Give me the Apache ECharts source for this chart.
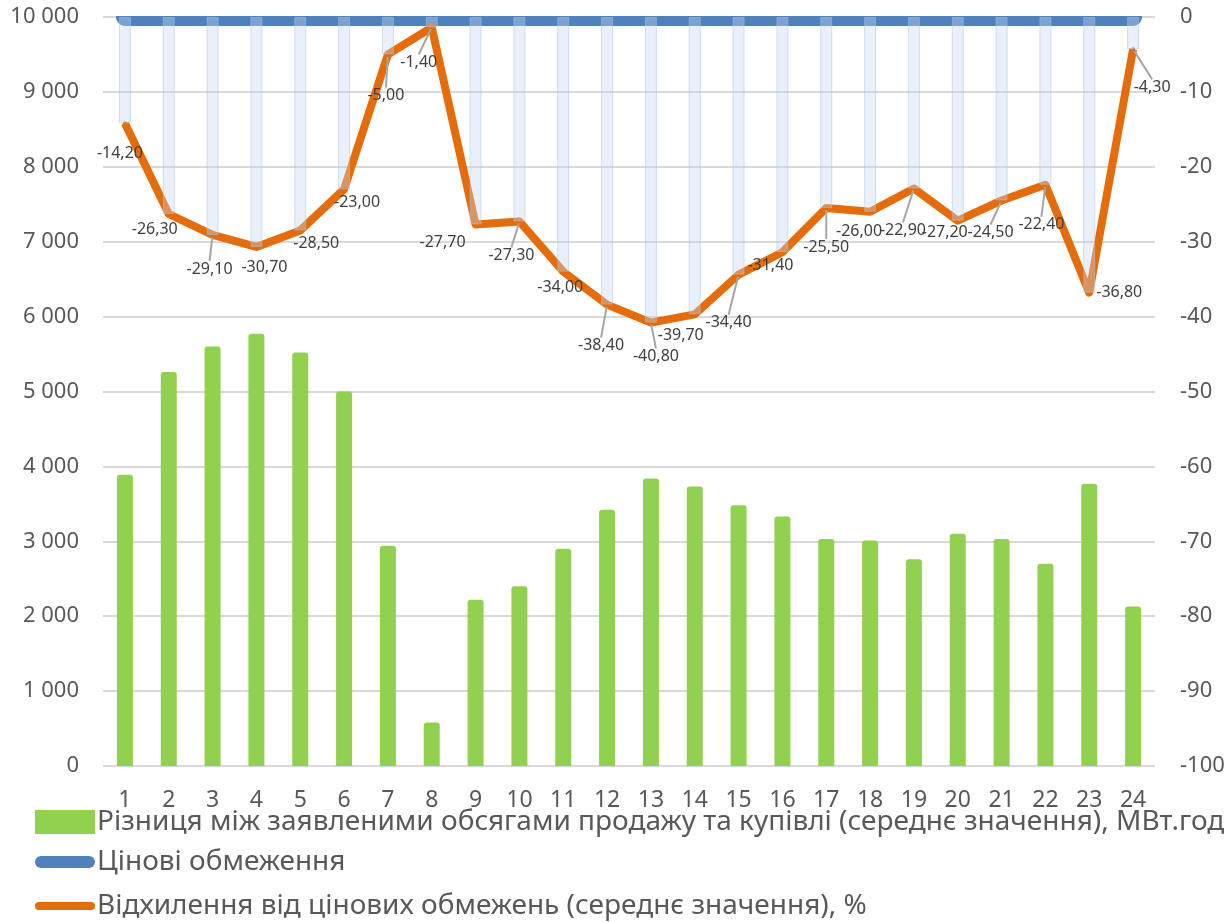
<!DOCTYPE html>
<html>
<head>
<meta charset="utf-8">
<script src="https://cdn.jsdelivr.net/npm/echarts@6/dist/echarts.min.js"></script>
<style>
  html, body { margin: 0; padding: 0; background: #fff; }
  #chart { width: 1229px; height: 922px; }
</style>
</head>
<body>
<div id="chart"></div>
<script>
const hours = ['1', '2', '3', '4', '5', '6', '7', '8', '9', '10', '11', '12',
  '13', '14', '15', '16', '17', '18', '19', '20', '21', '22', '23', '24']

// Різниця між заявленими обсягами, МВт.год
const volumeDiff = [3890, 5260, 5600, 5770, 5520, 5000, 2940, 580, 2220, 2400, 2900, 3420,
  3840, 3730, 3480, 3330, 3030, 3010, 2760, 3100, 3030, 2700, 3770, 2130]

// Цінові обмеження (рівень 0 %)
const priceLimit = [0, 0, 0, 0, 0, 0, 0, 0, 0, 0, 0, 0,
  0, 0, 0, 0, 0, 0, 0, 0, 0, 0, 0, 0]

// Відхилення від цінових обмежень, %
const deviation = [-14.2, -26.3, -29.1, -30.7, -28.5, -23.0, -5.0, -1.4, -27.7, -27.3, -34.0, -38.4,
  -40.8, -39.7, -34.4, -31.4, -25.5, -26.0, -22.9, -27.2, -24.5, -22.4, -36.8, -4.3]

const leftTicks = { min: 0, max: 10000, interval: 1000 }
const rightTicks = { min: -100, max: 0, interval: 10 }

const seriesNames = [
  'Різниця між заявленими обсягами продажу та купівлі (середнє значення), МВт.год',
  'Цінові обмеження',
  'Відхилення від цінових обмежень (середнє значення), %'
]

// зсув підписів відносно точок (як у вихідній діаграмі)
const labelShift = [
  [-5, 30], [-14, 15], [-3, 34], [8, 20], [16, 13], [13, 13], [-2, 41], [-13, 35],
  [-33, 18], [-8, 34], [-3, 16], [-6, 41], [5, 34], [-14, 21], [-10, 48], [-12, 13],
  [0, 39], [-11, 20], [-11, 42], [-13, 12], [-11, 32], [-4, 40], [30, 0], [19, 38]
]
const withLeader = [2, 6, 7, 9, 11, 12, 14, 16, 18, 20, 21, 23]

const FONT = 'Noto Sans'
const grey = '#595959'

const fmtThousands = (v) => String(v).replace(/\B(?=(\d{3})+(?!\d))/g, ' ')
const fmtPct = (v) => v.toFixed(2).replace('.', ',')

const legendText = { fontFamily: FONT, fontSize: 28, color: grey, lineHeight: 30, padding: [0, 0, 0, -3] }

const chart = echarts.init(document.getElementById('chart'))

const option = {
  animation: false,
  textStyle: { fontFamily: FONT },
  grid: { left: 103, right: 74, top: 17, bottom: 156, containLabel: false },
  // біла смуга над областю побудови: як в Excel, лінія обрізається по краю
  graphic: [{
    type: 'rect',
    shape: { x: 98, y: 0, width: 1062, height: 16 },
    style: { fill: '#fff' },
    z: 10
  }],
  legend: [
    {
      data: [{ name: seriesNames[0], icon: 'rect' }],
      left: 35, top: 807, padding: 0, itemWidth: 60, itemHeight: 24,
      textStyle: legendText
    },
    {
      data: [{ name: seriesNames[1], icon: 'path://M6,0 L54,0 A6,6 0 0 1 54,12 L6,12 A6,6 0 0 1 6,0 Z' }],
      left: 35, top: 847, padding: 0, itemWidth: 60, itemHeight: 12,
      textStyle: legendText
    },
    {
      data: [{ name: seriesNames[2], icon: 'path://M4,0 L56,0 A4,4 0 0 1 56,8 L4,8 A4,4 0 0 1 4,0 Z' }],
      left: 35, top: 891, padding: 0, itemWidth: 60, itemHeight: 8,
      textStyle: legendText
    }
  ],
  xAxis: [
    {
      type: 'category',
      data: hours,
      axisLine: { show: false },
      axisTick: { show: false },
      axisLabel: { color: grey, fontSize: 23, margin: 23, fontFamily: FONT }
    },
    {
      type: 'category',
      data: hours,
      show: false
    }
  ],
  yAxis: [
    {
      type: 'value',
      ...leftTicks,
      axisLine: { show: false },
      axisTick: { show: false },
      axisLabel: { color: grey, fontSize: 22, margin: 24, fontFamily: FONT, formatter: fmtThousands },
      splitLine: { show: true, lineStyle: { color: '#D9D9D9', width: 2 } }
    },
    {
      type: 'value',
      ...rightTicks,
      position: 'right',
      axisLine: { show: false },
      axisTick: { show: false },
      axisLabel: { color: grey, fontSize: 22, margin: 25, fontFamily: FONT },
      splitLine: { show: false }
    }
  ],
  series: [
    {
      name: seriesNames[0],
      type: 'bar',
      xAxisIndex: 0,
      yAxisIndex: 0,
      barWidth: 16,
      data: volumeDiff,
      itemStyle: { color: '#92D050', borderRadius: [3, 3, 0, 0] }
    },
    {
      name: seriesNames[1],
      type: 'line',
      xAxisIndex: 0,
      yAxisIndex: 1,
      data: priceLimit,
      symbol: 'none',
      lineStyle: { color: '#4F81BD', width: 18, cap: 'round' },
      itemStyle: { color: '#4F81BD' }
    },
    {
      name: seriesNames[2],
      type: 'line',
      xAxisIndex: 0,
      yAxisIndex: 1,
      symbol: 'circle',
      symbolSize: 4,
      data: deviation.map((v, i) => ({
        value: v,
        labelLine: { show: withLeader.includes(i) }
      })),
      lineStyle: { color: '#E46C0A', width: 8, join: 'round' },
      itemStyle: { color: '#E46C0A' },
      label: {
        show: true,
        position: 'inside',
        color: '#404040',
        fontSize: 16,
        fontFamily: FONT,
        formatter: (p) => fmtPct(p.value)
      },
      labelLine: { show: false, lineStyle: { color: '#A6A6A6', width: 2 } },
      labelLayout: (p) => ({ dx: labelShift[p.dataIndex][0], dy: labelShift[p.dataIndex][1] }),
      z: 3
    },
    {
      name: 'drop',
      type: 'bar',
      xAxisIndex: 1,
      yAxisIndex: 1,
      barWidth: 12,
      data: deviation,
      silent: true,
      itemStyle: { color: 'rgba(196,215,240,0.38)', borderColor: 'rgba(170,196,232,0.5)', borderWidth: 1 },
      z: 4
    }
  ]
}

chart.setOption(option)
window.addEventListener('resize', () => chart.resize())
</script>
</body>
</html>
